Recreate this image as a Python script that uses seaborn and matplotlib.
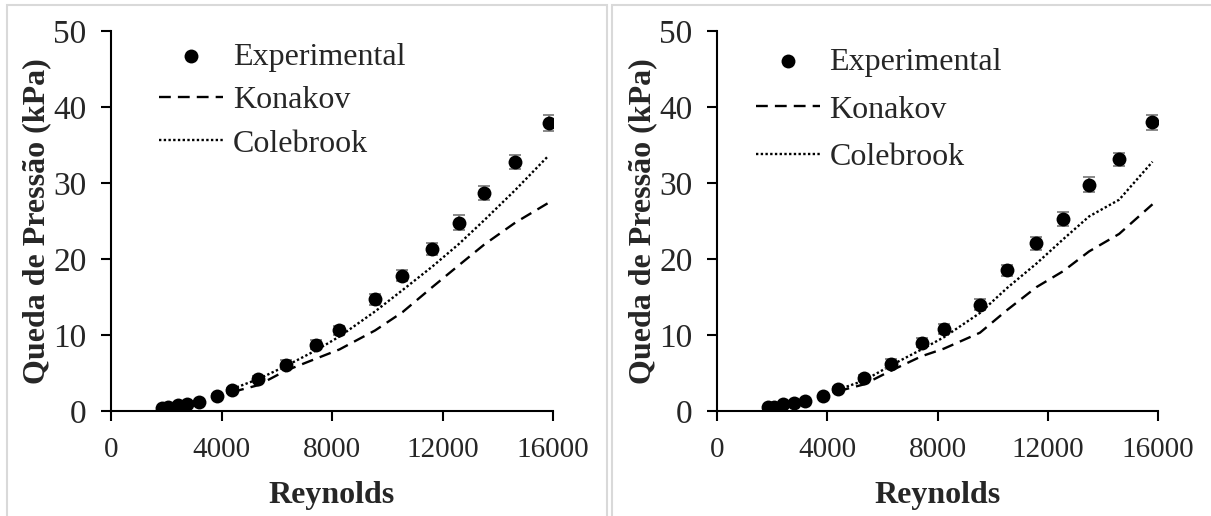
import pandas as pd
import seaborn as sns
import matplotlib.pyplot as plt
from matplotlib.patches import Rectangle

# --- Left panel ---
re_left = [1860, 2050, 2440, 2760, 3190, 3830, 4390, 5330, 6320, 7430, 8270,
           9560, 10550, 11630, 12600, 13510, 14640, 15840]
exp_left = [0.45, 0.5, 0.8, 0.95, 1.2, 2.0, 2.7, 4.2, 6.1, 8.7, 10.6,
            14.7, 17.8, 21.3, 24.8, 28.7, 32.8, 37.9]
err_left = [0.1, 0.1, 0.1, 0.1, 0.15, 0.2, 0.3, 0.4, 0.6, 0.6, 0.65,
            0.7, 0.75, 0.8, 0.95, 0.9, 0.9, 1.0]
konakov_left = [2.5, 3.4, 5.3, 6.9, 8.1, 10.6, 13.0, 16.3, 19.2, 21.9, 24.8, 27.4]
colebrook_left = [2.9, 4.2, 5.9, 8.0, 9.8, 13.1, 15.9, 19.0, 22.0, 25.1, 29.1, 33.6]

# --- Right panel ---
re_right = [1860, 2070, 2410, 2800, 3200, 3860, 4380, 5330, 6310, 7420, 8230,
            9540, 10530, 11590, 12560, 13500, 14590, 15800]
exp_right = [0.5, 0.55, 0.9, 1.1, 1.35, 1.95, 2.85, 4.3, 6.2, 9.0, 10.8,
             14.0, 18.5, 22.1, 25.3, 29.8, 33.1, 38.0]
err_right = [0.1, 0.1, 0.1, 0.1, 0.15, 0.2, 0.3, 0.4, 0.6, 0.6, 0.65,
             0.7, 0.75, 0.85, 0.95, 1.0, 0.9, 1.0]
konakov_right = [2.6, 3.5, 5.3, 7.2, 8.2, 10.3, 13.3, 16.3, 18.4, 21.0, 23.3, 27.2]
colebrook_right = [2.8, 4.0, 6.0, 8.1, 9.7, 12.9, 16.2, 19.4, 22.6, 25.6, 27.8, 32.8]

MODEL_START = 6  # turbulent correlations start at the 7th point

x_ticks = [0, 4000, 8000, 12000, 16000]
y_ticks = [0, 10, 20, 30, 40, 50]

sns.set_theme(style="white")
plt.rcParams["font.family"] = ["Liberation Serif", "DejaVu Serif"]
plt.rcParams["font.size"] = 21


def draw_panel(ax, re, exp, err, kon, cole, legend_anchor, label_spacing):
    df = pd.DataFrame({"Re": re, "dp": exp, "err": err})
    model = pd.DataFrame({"Re": re[MODEL_START:], "kon": kon, "cole": cole})

    sns.lineplot(data=model, x="Re", y="kon", ax=ax, color="black",
                 linestyle=(0, (5, 3)), linewidth=1.7, label="Konakov", zorder=2)
    sns.lineplot(data=model, x="Re", y="cole", ax=ax, color="black",
                 linestyle=(0, (1, 1)), linewidth=1.7, label="Colebrook", zorder=2)
    ax.errorbar(df["Re"], df["dp"], yerr=df["err"], fmt="none", ecolor="#808080",
                elinewidth=1.3, capsize=4, capthick=1.3, zorder=3)
    sns.scatterplot(data=df, x="Re", y="dp", ax=ax, color="black", s=100,
                    edgecolor="black", linewidth=0, label="Experimental", zorder=4)

    ax.set_xlim(0, 16000)
    ax.set_ylim(0, 50)
    ax.set_xticks(x_ticks)
    ax.set_yticks(y_ticks)
    ax.set_xlabel("Reynolds", fontweight="bold", fontsize=23)
    ax.set_ylabel("Queda de Pressão (kPa)", fontweight="bold", fontsize=23)
    ax.xaxis.set_label_coords(0.5, -0.185)
    ax.yaxis.set_label_coords(-0.135, 0.5)

    for side in ["top", "right"]:
        ax.spines[side].set_visible(False)
    for side in ["left", "bottom"]:
        ax.spines[side].set_color("black")
        ax.spines[side].set_linewidth(1.5)
    ax.tick_params(axis="both", direction="out", length=7, width=1.5,
                   color="black", left=True, bottom=True)
    ax.tick_params(axis="y", pad=10.5, labelsize=24)
    ax.tick_params(axis="x", pad=11.5, labelsize=21)

    handles, labels = ax.get_legend_handles_labels()
    order = [labels.index(n) for n in ["Experimental", "Konakov", "Colebrook"]]
    ax.legend([handles[i] for i in order], [labels[i] for i in order],
              loc="upper left", bbox_to_anchor=legend_anchor, frameon=False,
              fontsize=23, handlelength=2.0, handletextpad=0.3,
              borderpad=0, borderaxespad=0, labelspacing=label_spacing)


fig = plt.figure(figsize=(12.11, 5.16), dpi=100)
ax1 = fig.add_axes([111 / 1211, 1 - 411 / 516, 442 / 1211, 380 / 516])
ax2 = fig.add_axes([717 / 1211, 1 - 411 / 516, 441 / 1211, 380 / 516])

draw_panel(ax1, re_left, exp_left, err_left, konakov_left, colebrook_left,
           (0.109, 0.97), 0.44)
draw_panel(ax2, re_right, exp_right, err_right, konakov_right, colebrook_right,
           (0.088, 0.957), 0.58)

# light chart-area borders around each panel
frame_kw = dict(transform=fig.transFigure, fill=False, edgecolor="#d9d9d9",
                linewidth=1.5)
fig.add_artist(Rectangle((7 / 1211, -0.05), 600 / 1211, 1.05 - 5 / 516, **frame_kw))
fig.add_artist(Rectangle((612 / 1211, -0.05), 0.6, 1.05 - 5 / 516, **frame_kw))

fig.savefig("out.png", dpi=100)
